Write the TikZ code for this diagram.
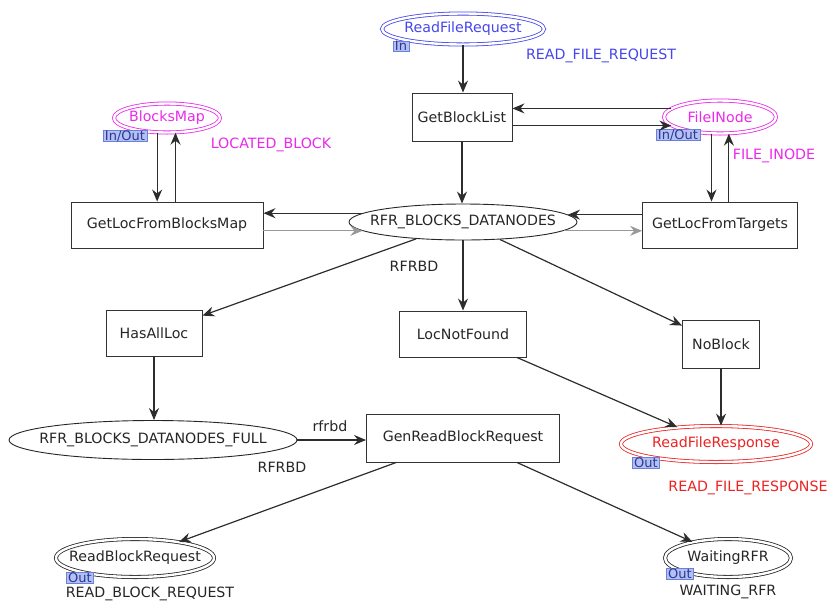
\documentclass[tikz,border=0pt]{standalone}
\usepackage{fontspec}
\setmainfont{DejaVu Sans}
\usetikzlibrary{shapes.geometric,arrows.meta}
\definecolor{cpnblue}{RGB}{70,70,235}
\definecolor{cpnmag}{RGB}{235,40,235}
\definecolor{cpnred}{RGB}{235,35,35}
\definecolor{tagfill}{RGB}{178,192,242}
\definecolor{tagdraw}{RGB}{105,128,220}
\definecolor{tagtext}{RGB}{45,55,150}
\definecolor{arcgray}{RGB}{45,45,45}
% zero-width centred text, so a place's ellipse takes only its given size
\newcommand\placetext[1]{\makebox[0pt]{#1}}
\begin{document}
\begin{tikzpicture}[x=1pt,y=-1pt,
  font=\fontsize{14.2}{16}\selectfont,
  trans/.style={draw=black!80, line width=0.9pt, fill=white, inner sep=0pt, text=black!85},
  place/.style={ellipse, draw=black!85, line width=0.9pt, inner sep=0pt, text=black!85},
  ioplace/.style={place, draw=#1, text=#1, double=white, double distance=2.4pt, line width=0.8pt},
  tag/.style={draw=tagdraw, fill=tagfill, text=tagtext, line width=0.6pt,
    inner xsep=2pt, inner ysep=0.3pt, font=\fontsize{13}{13}\selectfont},
  inscr/.style={inner sep=0pt},
  arc/.style={draw=arcgray, line width=1.2pt, -{Stealth[length=12pt,width=10pt,inset=4pt]}},
  lightarc/.style={arc, draw=black!40, line width=1pt}
]
\useasboundingbox (0,0) rectangle (832,606);

% places
\node[ioplace=cpnblue, minimum width=162pt, minimum height=31pt] (rfq) at (463,29) {\placetext{ReadFileRequest}};
\node[ioplace=cpnmag, minimum width=106pt, minimum height=29pt] (bm) at (167,118) {\placetext{BlocksMap}};
\node[ioplace=cpnmag, minimum width=112pt, minimum height=33pt] (fin) at (720,117) {\placetext{FileINode}};
\node[place, minimum width=228pt, minimum height=36pt] (rfr) at (463,222) {\placetext{RFR\_BLOCKS\_DATANODES}};
\node[place, minimum width=288pt, minimum height=39pt] (rfrf) at (153,440) {\placetext{RFR\_BLOCKS\_DATANODES\_FULL}};
\node[ioplace=cpnred, minimum width=190pt, minimum height=36pt] (rfs) at (716,444) {\placetext{ReadFileResponse}};
\node[ioplace=black!85, minimum width=158pt, minimum height=38pt] (rbr) at (135,558) {\placetext{ReadBlockRequest}};
\node[ioplace=black!85, minimum width=126pt, minimum height=38pt] (wrfr) at (728,558) {\placetext{WaitingRFR}};

% transitions
\node[trans, minimum width=100pt, minimum height=48pt] (gbl) at (462,117) {GetBlockList};
\node[trans, minimum width=192pt, minimum height=46pt] (glbm) at (167,225) {GetLocFromBlocksMap};
\node[trans, minimum width=155pt, minimum height=46pt] (glft) at (720,225) {GetLocFromTargets};
\node[trans, minimum width=96pt, minimum height=46pt] (hal) at (154,333) {HasAllLoc};
\node[trans, minimum width=127pt, minimum height=46pt] (lnf) at (463,334) {LocNotFound};
\node[trans, minimum width=77pt, minimum height=48pt] (nob) at (721,344) {NoBlock};
\node[trans, minimum width=193pt, minimum height=48pt] (grbr) at (463,438) {GenReadBlockRequest};

% port tags
\node[tag] (tin) at (401,46) {In};
\node[tag] (tbm) at (125,136) {In/Out};
\node[tag] (tfin) at (678,135) {In/Out};
\node[tag] (trfs) at (646,463) {Out};
\node[tag] (trbr) at (80,578) {Out};
\node[tag] (twrfr) at (680,574) {Out};

% colour sets and arc inscriptions
\node[inscr, text=cpnblue] (crfq) at (601,56) {READ\_FILE\_REQUEST};
\node[inscr, text=cpnmag] (cbm) at (271,145) {LOCATED\_BLOCK};
\node[inscr, text=cpnmag] (cfin) at (774,156) {FILE\_INODE};
\node[inscr, text=black!85] (crfr) at (414,266) {RFRBD};
\node[inscr, text=black!85] (arcl) at (330,426) {rfrbd};
\node[inscr, text=black!85] (crfrf) at (282,467) {RFRBD};
\node[inscr, text=cpnred] (crfs) at (748,488) {READ\_FILE\_RESPONSE};
\node[inscr, text=black!85] (crbr) at (150,594) {READ\_BLOCK\_REQUEST};
\node[inscr, text=black!85] (cwrfr) at (728,592) {WAITING\_RFR};

% arcs
\draw[arc] (rfq.south) -- (rfq.south |- gbl.north);
\draw[arc] (fin.170.7) -- (fin.170.7 -| gbl.east);
\draw[arc] (gbl.east |- fin.190.9) -- (fin.190.9);
\draw[arc] (gbl.south) -- (gbl.south |- rfr.north);
\draw[arc] (bm.236.9) -- (bm.236.9 |- glbm.north);
\draw[arc] (bm.300 |- glbm.north) -- (bm.300);
\draw[arc] (fin.243.9) -- (fin.243.9 |- glft.north);
\draw[arc] (fin.298.9 |- glft.north) -- (fin.298.9);
\draw[arc] (rfr.175.5) -- (rfr.175.5 -| glbm.east);
\draw[lightarc] (glbm.east |- rfr.185.25) -- (rfr.185.25);
\draw[arc] (glft.west |- rfr.4.5) -- (rfr.4.5);
\draw[lightarc] (rfr.-5.25) -- (rfr.-5.25 -| glft.west);
\draw[arc] (rfr) -- (hal);
\draw[arc] (rfr.south) -- (rfr.south |- lnf.north);
\draw[arc] (rfr) -- (nob);
\draw[arc] (hal.south) -- (hal.south |- rfrf.north);
\draw[arc] (rfrf.east) -- (rfrf.east -| grbr.west);
\draw[arc] (lnf) -- (rfs);
\draw[arc] (nob.south) -- (nob.south |- rfs.north);
\draw[arc] (grbr) -- (rbr);
\draw[arc] (grbr) -- (wrfr);
\end{tikzpicture}
\end{document}
